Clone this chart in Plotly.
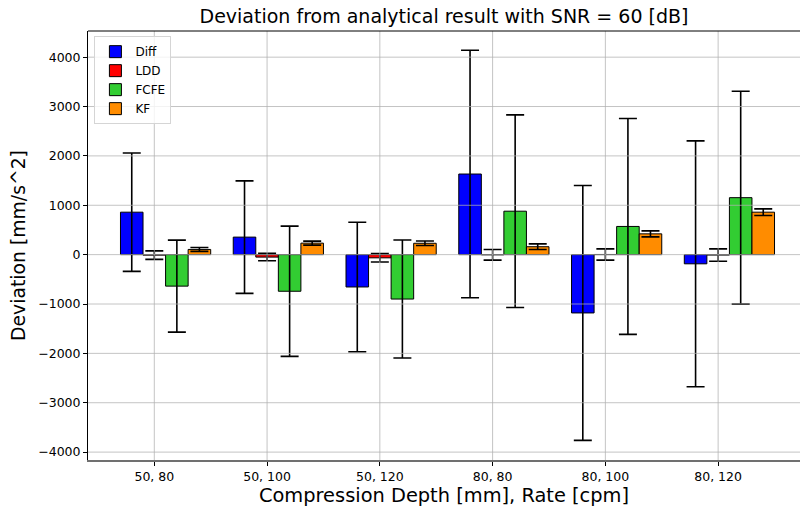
import plotly.graph_objects as go

categories = ["50, 80", "50, 100", "50, 120", "80, 80", "80, 100", "80, 120"]
series_names = ["Diff", "LDD", "FCFE", "KF"]

diff_mean = [860, 355, -655, 1633, -1181, -186]
diff_std = [1200, 1140, 1312, 2507, 2581, 2490]
ldd_mean = [-10, -50, -65, -3, 3, -8]
ldd_std = [87, 75, 85, 108, 114, 125]
fcfe_mean = [-638, -742, -900, 880, 571, 1154]
fcfe_std = [931, 1319, 1195, 1950, 2186, 2156]
kf_mean = [105, 233, 230, 160, 421, 860]
kf_std = [40, 40, 45, 57, 61, 67]

y_ticks = [-4000, -3000, -2000, -1000, 0, 1000, 2000, 3000, 4000]

means = [diff_mean, ldd_mean, fcfe_mean, kf_mean]
stds = [diff_std, ldd_std, fcfe_std, kf_std]
colors = ["#0000ff", "#ff0000", "#32cd32", "#ff8c00"]
offsets = [-0.2, 0.0, 0.2, 0.4]
bar_w = 0.2

fig = go.Figure()
for name, m, s, c, off in zip(series_names, means, stds, colors, offsets):
    fig.add_trace(go.Bar(
        x=[i + off for i in range(len(categories))],
        y=m,
        width=bar_w,
        name=name,
        marker=dict(color=c, line=dict(color="black", width=1)),
        error_y=dict(type="data", array=s, color="black", thickness=1.6, width=9),
    ))

grid_col = "rgba(176,176,176,0.75)"
shapes = []
for v in y_ticks:
    shapes.append(dict(type="line", xref="paper", yref="y", x0=0, x1=1, y0=v, y1=v,
                       line=dict(color=grid_col, width=1), layer="above"))
for i in range(len(categories)):
    shapes.append(dict(type="line", xref="x", yref="paper", x0=i, x1=i, y0=0, y1=1,
                       line=dict(color=grid_col, width=1), layer="above"))
# top spine
shapes.append(dict(type="line", xref="paper", yref="paper", x0=0, x1=1, y0=1, y1=1,
                   line=dict(color="black", width=1), layer="above"))

fig.update_layout(
    width=800, height=510,
    margin=dict(l=88, r=0, t=31, b=50, pad=0),
    paper_bgcolor="white", plot_bgcolor="white",
    barmode="overlay",
    font=dict(family="DejaVu Sans", color="black"),
    title=dict(text="Deviation from analytical result with SNR = 60 [dB]",
               x=0.5, xref="paper", xanchor="center", y=0.968, yanchor="middle",
               font=dict(size=19)),
    showlegend=True,
    legend=dict(x=0.009, y=0.988, xanchor="left", yanchor="top",
                bgcolor="rgba(255,255,255,0.8)", bordercolor="#d5d5d5", borderwidth=1,
                font=dict(size=12), tracegroupgap=0, itemwidth=30),
    shapes=shapes,
    xaxis=dict(range=[-0.588, 5.726], tickmode="array",
               tickvals=list(range(len(categories))), ticktext=categories,
               showgrid=False, zeroline=False,
               showline=True, linecolor="#707070", linewidth=2,
               ticks="outside", ticklen=4, tickcolor="black",
               tickfont=dict(size=12.5),
               title=dict(text="Compression Depth [mm], Rate [cpm]", font=dict(size=19.4), standoff=5)),
    yaxis=dict(range=[-4160, 4530], tickmode="array", tickvals=y_ticks,
               showgrid=False, zeroline=False,
               showline=True, linecolor="black", linewidth=1,
               ticks="outside", ticklen=4, tickcolor="black",
               tickfont=dict(size=12.5),
               title=dict(text="Deviation [mm/s^2]", font=dict(size=18.8), standoff=7)),
)

fig.write_html("out.html")
